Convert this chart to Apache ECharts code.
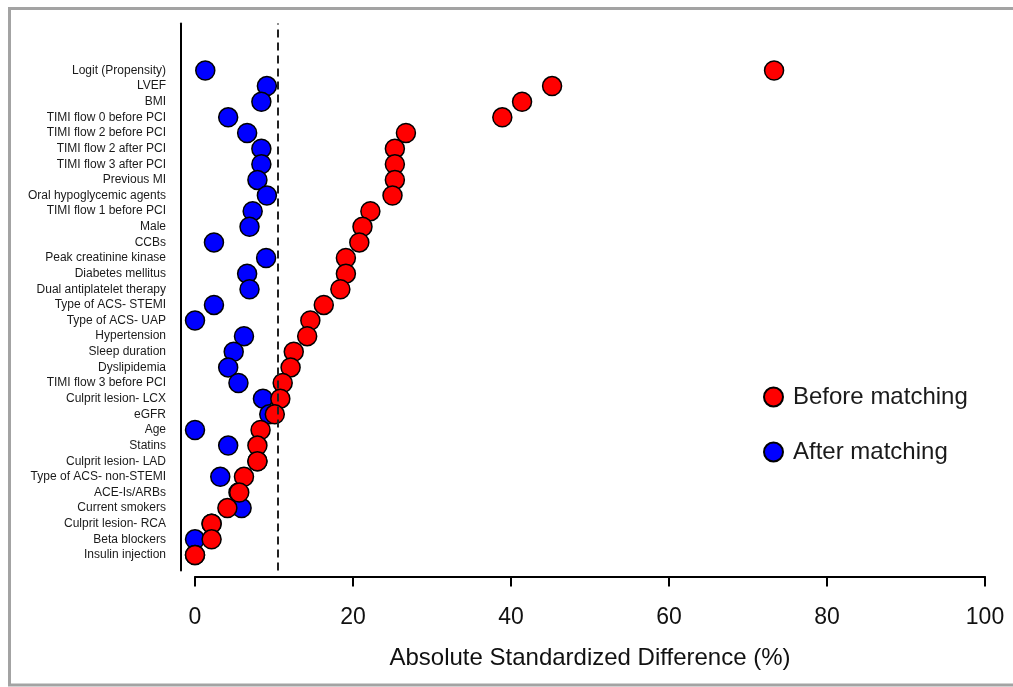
<!DOCTYPE html>
<html>
<head>
<meta charset="utf-8">
<script src="https://cdn.jsdelivr.net/npm/echarts@6/dist/echarts.min.js"></script>
<style>html,body{margin:0;padding:0;background:#fff;}#c{width:1013px;height:687px;}</style>
</head>
<body>
<div id="c"></div>
<script>
// Covariates, listed top to bottom
const categories = [
  'Logit (Propensity)', 'LVEF', 'BMI', 'TIMI flow 0 before PCI', 'TIMI flow 2 before PCI',
  'TIMI flow 2 after PCI', 'TIMI flow 3 after PCI', 'Previous MI', 'Oral hypoglycemic agents',
  'TIMI flow 1 before PCI', 'Male', 'CCBs', 'Peak creatinine kinase', 'Diabetes mellitus',
  'Dual antiplatelet therapy', 'Type of ACS- STEMI', 'Type of ACS- UAP', 'Hypertension',
  'Sleep duration', 'Dyslipidemia', 'TIMI flow 3 before PCI', 'Culprit lesion- LCX', 'eGFR',
  'Age', 'Statins', 'Culprit lesion- LAD', 'Type of ACS- non-STEMI', 'ACE-Is/ARBs',
  'Current smokers', 'Culprit lesion- RCA', 'Beta blockers', 'Insulin injection'
];
const beforeMatching = [
  73.3, 45.2, 41.4, 38.9, 26.7, 25.3, 25.3, 25.3, 25.0, 22.2, 21.2, 20.8, 19.1, 19.1, 18.4, 16.3,
  14.6, 14.2, 12.5, 12.1, 11.1, 10.8, 10.1, 8.3, 7.9, 7.9, 6.2, 5.6, 4.1, 2.1, 2.1, 0.0
];
const afterMatching = [
  1.3, 9.1, 8.4, 4.2, 6.6, 8.4, 8.4, 7.9, 9.1, 7.3, 6.9, 2.4, 9.0, 6.6, 6.9, 2.4,
  0.0, 6.2, 4.9, 4.2, 5.5, 8.6, 9.4, 0.0, 4.2, 7.9, 3.2, 5.5, 5.9, 2.1, 0.0, 0.0
];
const xTicks = [0, 20, 40, 60, 80, 100];
const threshold = 10.5;

const n = categories.length;
const toPoints = vals => vals.map((v, i) => [v, n - 1 - i]);

const chart = echarts.init(document.getElementById('c'), null, {renderer: 'canvas'});
const font = 'Arial, "Liberation Sans", Helvetica, sans-serif';
chart.setOption({
  animation: false,
  backgroundColor: '#fff',
  textStyle: {fontFamily: font},
  graphic: [{
    type: 'rect', silent: true, z: 100,
    shape: {x: 9.5, y: 8.5, width: 1020, height: 676.5},
    style: {fill: 'none', stroke: '#a3a3a3', lineWidth: 3}
  }],
  grid: {left: 195, right: 28, top: 23.6, bottom: 116.4, containLabel: false},
  legend: {
    orient: 'vertical', left: 758, top: 380,
    data: ['Before matching', 'After matching'],
    itemWidth: 19, itemHeight: 19, itemGap: 31,
    textStyle: {fontSize: 24, color: '#1a1a1a', fontFamily: font, padding: [0, 0, 0, 5], lineHeight: 24}
  },
  xAxis: {
    type: 'value', min: xTicks[0], max: xTicks[xTicks.length - 1], interval: 20,
    offset: 6,
    axisLine: {show: true, onZero: false, lineStyle: {color: '#000', width: 2}},
    axisTick: {show: true, length: 10, lineStyle: {color: '#000', width: 2}},
    axisLabel: {fontSize: 23, color: '#111', margin: 30, fontFamily: font},
    splitLine: {show: false},
    name: 'Absolute Standardized Difference (%)',
    nameLocation: 'middle', nameGap: 70,
    nameTextStyle: {fontSize: 24, color: '#111', fontFamily: font}
  },
  yAxis: {
    type: 'value', min: -1, max: 34, interval: 1,
    offset: 14,
    axisLine: {show: true, onZero: false, lineStyle: {color: '#000', width: 2}},
    axisTick: {show: false},
    splitLine: {show: false},
    axisLabel: {
      fontSize: 12, color: '#1a1a1a', margin: 15, fontFamily: font,
      formatter: v => (v >= 0 && v < n && Number.isInteger(v)) ? categories[n - 1 - v] : ''
    }
  },
  series: [
    {
      name: 'After matching', type: 'scatter', symbol: 'circle', symbolSize: 19,
      itemStyle: {color: '#0000ff', borderColor: '#000', borderWidth: 1.5, opacity: 1},
      data: toPoints(afterMatching), z: 2,
      markLine: {
        silent: true, symbol: 'none', label: {show: false},
        lineStyle: {color: '#222', type: [8, 5], width: 2},
        data: [{xAxis: threshold}]
      }
    },
    {
      name: 'Before matching', type: 'scatter', symbol: 'circle', symbolSize: 19,
      itemStyle: {color: '#ff0000', borderColor: '#000', borderWidth: 1.5, opacity: 1},
      data: toPoints(beforeMatching), z: 3
    }
  ]
});
</script>
</body>
</html>
